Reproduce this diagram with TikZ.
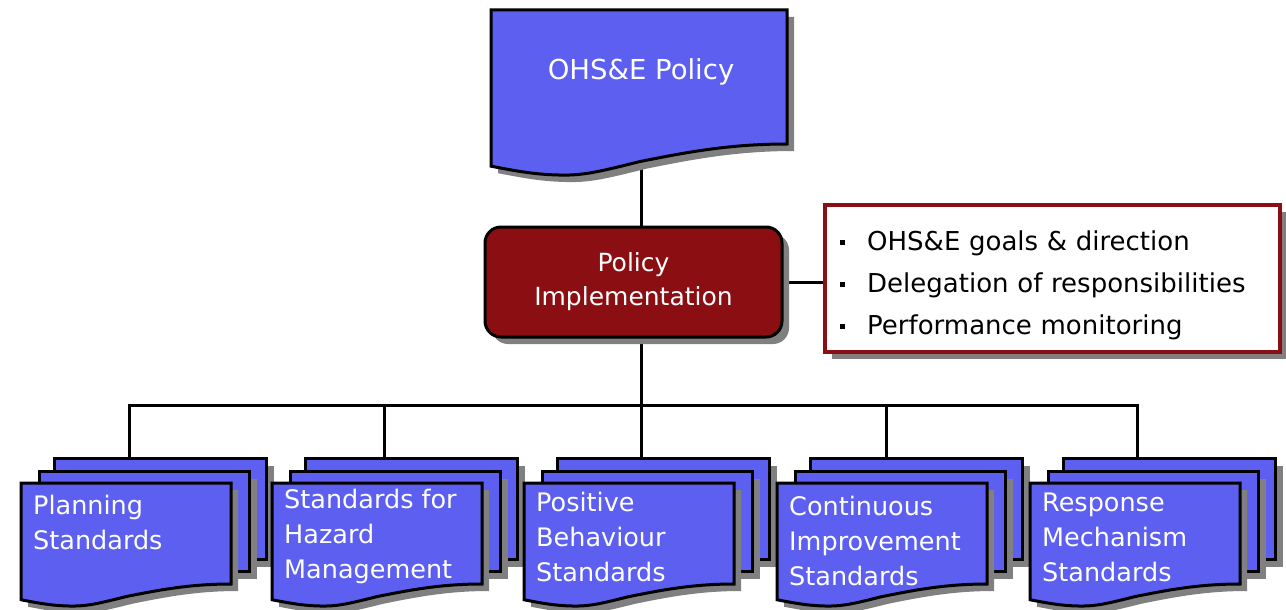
\documentclass[tikz,border=0pt]{standalone}
\usepackage{fontspec}
\setmainfont{DejaVu Sans}
\usetikzlibrary{shadows}
\definecolor{docblue}{RGB}{92,95,240}
\definecolor{polred}{RGB}{139,15,18}
\definecolor{shade}{RGB}{128,128,128}
\pgfdeclarelayer{bg}
\pgfsetlayers{bg,main}
% #1 style, #2 x, #3 y (top), #4 width, #5 right-side height
\newcommand\wavepath[5]{\path[#1] (#2,#3) -- (#2+#4,#3) -- (#2+#4,#3+#5)
  .. controls (#2+0.8*#4,#3+#5) and (#2+0.65*#4,#3+#5+0.03*#4) .. (#2+0.5*#4,#3+#5+0.06*#4)
  .. controls (#2+0.38*#4,#3+#5+0.09*#4) and (#2+0.32*#4,#3+#5+0.105*#4) .. (#2+0.25*#4,#3+#5+0.105*#4)
  .. controls (#2+0.15*#4,#3+#5+0.105*#4) and (#2+0.08*#4,#3+#5+0.09*#4) .. (#2,#3+#5+0.075*#4) -- cycle;}
% #1 index, #2 front x, #3 drop x, #4 text, #5 text top y
\newcommand\pagestack[5]{%
  \node[pagebox, minimum width=212, minimum height=101] (back#1) at (#2+32,457) {};
  \node[pagebox, minimum width=210, minimum height=100] (mid#1) at (#2+17,470) {};
  \wavepath{shadowfill}{#2+7}{490}{210}{101}
  \wavepath{pagefill}{#2}{483}{210}{101}
  \node[lbl] (txt#1) at (#2+12,#5) {#4};
  \coordinate (drop#1) at (#3,457);
}
\begin{document}
\begin{tikzpicture}[x=1pt,y=-1pt,
  conn/.style={line width=3pt,draw=black},
  pagefill/.style={fill=docblue,draw=black,line width=3pt,line join=miter},
  shadowfill/.style={fill=shade},
  pagebox/.style={fill=docblue,draw=black,line width=3pt,rectangle,inner sep=0pt,anchor=north west,
    drop shadow={shadow xshift=7pt,shadow yshift=-7pt,fill=shade,opacity=1}},
  lbl/.style={text=white,font=\fontsize{25.5pt}{35pt}\selectfont,align=left,inner sep=0pt,anchor=north west},
  polbox/.style={fill=polred,draw=black,line width=3pt,rounded corners=16pt,minimum width=297,minimum height=110,
    text=white,align=center,font=\fontsize{25pt}{34pt}\selectfont,
    drop shadow={shadow xshift=7pt,shadow yshift=-7pt,fill=shade,opacity=1}},
  bulbox/.style={fill=white,draw=polred,line width=4pt,minimum width=455,minimum height=147,inner sep=0pt,
    drop shadow={shadow xshift=7pt,shadow yshift=-7pt,fill=shade,opacity=1}},
  bultext/.style={text width=425pt,inner sep=0pt,anchor=west,align=left,font=\fontsize{26pt}{42pt}\selectfont},
]
\useasboundingbox (0,0) rectangle (1286,610);
% top document
\wavepath{shadowfill}{498}{17}{296}{134}
\wavepath{pagefill}{491}{10}{296}{134}
\node[text=white,font=\fontsize{27.5pt}{30pt}\selectfont] (doc) at (641,72) {OHS\&E Policy};
% policy implementation
\node[polbox] (pol) at (633.5,282) {Policy\\Implementation};
% bullet box
\newcommand\bul{\makebox[27pt][l]{\raisebox{5pt}{\rule{5pt}{5pt}}}}
\node[bulbox] (bul) at (1052.5,278.5) {};
\node[bultext] (bt) at (840,285) {\bul OHS\&E goals \& direction\\\bul Delegation of responsibilities\\\bul Performance monitoring};
% stacks
\pagestack{1}{21}{129}{Planning\\Standards}{495}
\pagestack{2}{272}{384}{Standards for\\Hazard\\Management}{489}
\pagestack{3}{524}{641}{Positive\\Behaviour\\Standards}{492}
\pagestack{4}{777}{886}{Continuous\\Improvement\\Standards}{496}
\pagestack{5}{1030}{1137}{Response\\Mechanism\\Standards}{493}
% connectors
\begin{pgfonlayer}{bg}
\draw[conn] (doc.south) -- (doc.south |- pol.north);
\draw[conn] (pol.east) -- (pol.east -| bul.west);
\coordinate (hub) at (641,405);
\draw[conn] (pol.south -| hub) -- (hub);
\draw[conn,line join=miter] (drop1) -- (drop1 |- hub) -- (drop5 |- hub) -- (drop5);
\foreach \i in {2,3,4} \draw[conn] (drop\i |- hub) -- (drop\i);
\end{pgfonlayer}
\end{tikzpicture}
\end{document}
